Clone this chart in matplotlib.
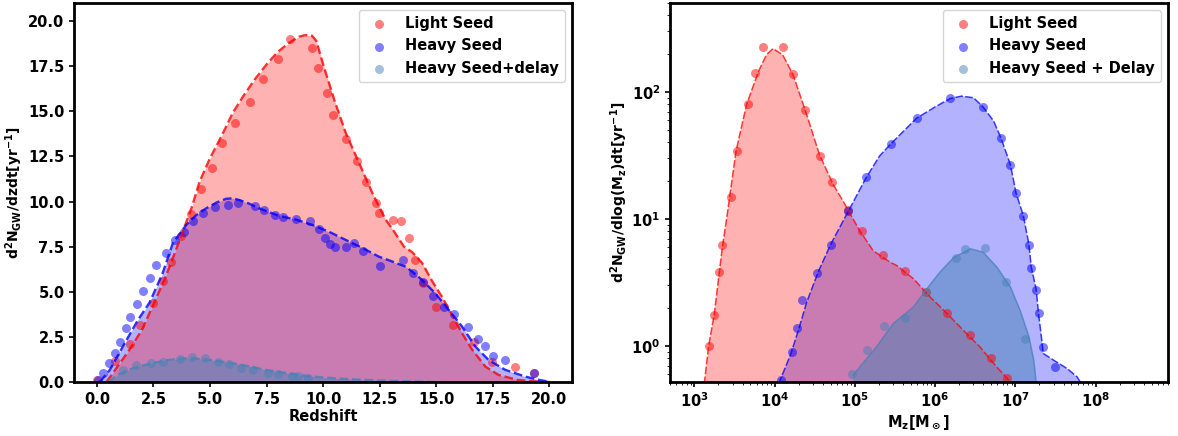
import matplotlib
matplotlib.use("Agg")
import matplotlib.pyplot as plt

plt.rcParams["font.weight"] = "bold"
plt.rcParams["axes.labelweight"] = "bold"
plt.rcParams["mathtext.default"] = "bf"

# ---- left panel: merger rate vs redshift ----
light_z = [0.0, 0.79, 1.45, 1.89, 2.48, 2.92, 3.29, 3.73, 4.17, 4.61, 5.1, 5.54,
           6.12, 6.77, 7.33, 7.99, 8.55, 9.5, 9.79, 10.19, 10.44, 11.0, 11.48,
           11.88, 12.32, 12.47, 13.1, 13.45, 13.79, 14.05, 14.42, 14.99, 15.74,
           16.65, 17.46, 18.49, 19.32]
light_rate = [0.1, 1.16, 2.1, 3.16, 4.36, 5.6, 6.67, 8.09, 9.3, 10.68, 11.84,
              13.22, 14.37, 15.5, 16.77, 17.88, 19.03, 18.49, 17.42, 16.0, 14.79,
              13.45, 12.26, 11.1, 9.9, 9.35, 9.0, 8.93, 7.96, 6.76, 5.47, 4.17,
              3.18, 2.2, 1.13, 0.81, 0.52]
light_fit_z = [0.43, 0.8, 1.45, 2.0, 2.5, 3.0, 3.4, 3.73, 4.2, 4.54, 5.0, 5.5,
               6.0, 6.5, 7.0, 7.5, 8.0, 8.5, 8.94, 9.2, 9.5, 9.7, 10.0, 10.5,
               11.0, 11.6, 12.2, 12.76, 13.05, 13.57, 13.93, 14.37, 14.81, 15.26,
               15.7, 16.14, 16.58, 17.17, 17.75, 18.6, 19.3, 20.0]
light_fit_rate = [0.0, 0.65, 1.8, 2.9, 4.3, 5.7, 7.0, 8.1, 9.7, 11.1, 12.4, 13.6,
                  14.9, 15.9, 16.8, 17.6, 18.3, 18.8, 19.14, 19.22, 19.2, 18.9,
                  17.6, 15.6, 13.8, 12.1, 10.4, 9.0, 8.5, 7.5, 7.2, 6.6, 5.6, 4.7,
                  3.7, 2.7, 1.8, 0.85, 0.39, 0.11, 0.03, 0.0]

heavy_z = [0.06, 0.28, 0.53, 0.82, 1.04, 1.28, 1.48, 1.79, 2.04, 2.36, 2.63,
           3.07, 3.47, 3.85, 4.24, 4.71, 5.24, 5.79, 6.23, 7.0, 7.4, 7.89, 8.21,
           8.8, 9.41, 9.82, 10.07, 10.31, 10.51, 11.03, 11.37, 11.78, 12.5,
           13.54, 13.96, 14.41, 14.86, 15.33, 15.8, 16.39, 16.83, 17.15, 17.49,
           18.05, 19.32]
heavy_rate = [0.11, 0.48, 1.04, 1.59, 2.24, 2.97, 3.58, 4.3, 5.06, 5.78, 6.48,
              7.17, 7.87, 8.29, 8.94, 9.38, 9.72, 9.81, 9.9, 9.77, 9.53, 9.25,
              9.12, 9.01, 8.92, 8.46, 8.0, 7.63, 7.5, 7.5, 7.68, 7.26, 6.45,
              6.76, 6.06, 5.52, 4.78, 4.17, 3.75, 3.07, 2.38, 2.0, 1.44, 1.2, 0.52]
heavy_fit_z = [0.13, 0.57, 1.23, 1.8, 2.33, 2.9, 3.36, 3.95, 4.4, 4.83, 5.3,
               5.71, 6.0, 6.3, 6.7, 7.18, 8.06, 8.8, 9.53, 10.3, 11.0, 11.7,
               12.47, 13.0, 13.64, 14.0, 14.37, 14.96, 15.55, 16.14, 16.73,
               17.31, 18.05, 18.93, 19.5, 19.96]
heavy_fit_rate = [0.0, 0.66, 2.14, 3.4, 4.4, 6.0, 7.7, 8.7, 9.25, 9.62, 9.95,
                  10.15, 10.18, 10.08, 9.9, 9.62, 9.2, 9.0, 8.7, 8.3, 7.87, 7.45,
                  6.94, 6.7, 6.39, 6.05, 5.65, 4.91, 3.99, 3.07, 1.96, 1.22, 0.67,
                  0.3, 0.12, 0.02]

delay_z = [1.16, 1.75, 2.41, 2.92, 3.66, 4.2, 4.76, 5.34, 5.86, 6.37, 6.89,
           7.55, 8.02, 8.63, 8.9, 9.31]
delay_rate = [0.66, 0.94, 1.04, 1.13, 1.26, 1.4, 1.31, 1.13, 0.98, 0.79, 0.66,
              0.52, 0.43, 0.35, 0.33, 0.2]
delay_fit_z = [0.5, 1.0, 1.6, 2.3, 3.07, 3.7, 4.24, 5.0, 6.0, 6.8, 7.48, 8.65,
               9.5, 10.5, 11.5, 12.5, 13.5, 14.5, 15.0]
delay_fit_rate = [0.0, 0.45, 0.76, 1.0, 1.2, 1.3, 1.31, 1.22, 1.04, 0.85, 0.66,
                  0.44, 0.3, 0.2, 0.13, 0.08, 0.04, 0.01, 0.0]

# ---- right panel: merger rate vs redshifted mass ----
light_m = [1.51e3, 1.78e3, 2.04e3, 2.24e3, 2.88e3, 3.39e3, 4.68e3, 5.75e3,
           7.24e3, 1.26e4, 1.70e4, 2.37e4, 3.72e4, 5.25e4, 8.32e4, 1.23e5,
           2.24e5, 4.27e5, 7.76e5, 1.41e6, 2.75e6, 5.01e6, 7.94e6]
light_dn = [1.0, 1.76, 3.8, 6.24, 14.8, 34.3, 80.5, 141, 225, 225, 138, 71.8,
            31.3, 19.6, 11.7, 8.08, 5.21, 3.92, 2.65, 1.80, 1.21, 0.805, 0.555]
light_fit_m = [1.33e3, 1.51e3, 1.78e3, 2.04e3, 2.24e3, 2.51e3, 3.31e3, 4.47e3,
               6.31e3, 7.94e3, 9.55e3, 1.26e4, 1.70e4, 2.51e4, 3.63e4, 5.37e4,
               7.94e4, 8.71e4, 1.15e5, 1.70e5, 2.75e5, 3.31e5, 5.37e5, 8.71e5,
               1.41e6, 2.24e6, 3.63e6, 5.89e6, 8.71e6]
light_fit_dn = [0.5, 1.0, 1.8, 3.7, 6.0, 9.7, 34, 79, 145, 196, 219, 196, 137,
                66.5, 32, 18.7, 12.3, 11, 8.1, 5.6, 4.56, 4.3, 3.38, 2.42, 1.8,
                1.33, 0.98, 0.68, 0.52]

heavy_m = [1.20e4, 1.66e4, 1.91e4, 2.19e4, 3.35e4, 5.01e4, 8.32e4, 1.38e5,
           2.82e5, 5.89e5, 1.55e6, 3.98e6, 6.61e6, 8.71e6, 1.02e7, 1.26e7,
           1.48e7, 1.58e7, 1.82e7, 1.95e7, 2.24e7, 3.09e7]
heavy_dn = [0.54, 0.89, 1.37, 2.31, 3.76, 6.24, 11.6, 21.2, 39.1, 61.8, 88.7,
            75.9, 43.6, 26.6, 16.1, 10.6, 6.28, 4.12, 2.73, 1.81, 0.98, 0.68]
heavy_fit_m = [1.12e4, 1.26e4, 1.58e4, 2.0e4, 2.51e4, 3.55e4, 5.01e4, 8.32e4,
               1.38e5, 2.04e5, 2.82e5, 5.89e5, 1.0e6, 1.55e6, 2.14e6, 3.02e6,
               3.98e6, 5.37e6, 6.61e6, 8.71e6, 1.02e7, 1.26e7, 1.48e7, 1.58e7,
               1.82e7, 1.95e7, 2.24e7, 3.02e7, 4.47e7, 5.89e7, 6.46e7]
heavy_fit_dn = [0.5, 0.6, 0.85, 1.35, 2.2, 3.9, 6.3, 11.5, 21, 31.3, 39, 62,
                76, 88.7, 92.5, 89.8, 75.9, 58.9, 43.6, 26.6, 16.1, 10.6, 6.3,
                4.2, 2.8, 1.8, 0.87, 0.77, 0.66, 0.57, 0.52]

delay_m = [9.33e4, 1.41e5, 2.34e5, 4.27e5, 7.76e5, 1.82e6, 2.34e6, 4.17e6,
           7.76e6, 1.33e7]
delay_dn = [0.6, 0.925, 1.44, 1.66, 2.65, 4.94, 5.8, 5.87, 3.18, 1.14]
delay_fit_m = [9.55e4, 1.15e5, 1.86e5, 3.02e5, 5.37e5, 7.94e5, 1.15e6, 1.70e6,
               2.75e6, 3.98e6, 5.89e6, 8.71e6, 1.15e7, 1.48e7, 1.70e7, 1.82e7]
delay_fit_dn = [0.59, 0.68, 0.98, 1.5, 2.02, 2.82, 3.8, 4.94, 5.81, 5.46, 4.17,
                2.9, 1.9, 1.18, 0.77, 0.52]


def main() -> int:
    fig, (ax1, ax2) = plt.subplots(1, 2, figsize=(11.78, 4.36), dpi=100)
    fig.subplots_adjust(left=0.063, right=0.9915, top=0.993, bottom=0.124, wspace=0.197)

    red, blue, teal = "red", "blue", "steelblue"
    ms = 42

    # Left: redshift distribution (blue fill first, red on top)
    ax1.fill_between(heavy_fit_z, heavy_fit_rate, color=blue, alpha=0.3, lw=0)
    ax1.fill_between(light_fit_z, light_fit_rate, color=red, alpha=0.3, lw=0)
    ax1.fill_between(delay_fit_z, delay_fit_rate, color=teal, alpha=0.5, lw=0)
    ax1.plot(light_fit_z, light_fit_rate, "--", color=red, lw=1.7, alpha=0.8)
    ax1.plot(heavy_fit_z, heavy_fit_rate, "--", color=blue, lw=1.7, alpha=0.8)
    ax1.plot(delay_fit_z, delay_fit_rate, "--", color=teal, lw=1.7, alpha=0.8)
    ax1.scatter(light_z, light_rate, s=ms, color=red, alpha=0.5, lw=0, label="Light Seed")
    ax1.scatter(heavy_z, heavy_rate, s=ms, color=blue, alpha=0.5, lw=0, label="Heavy Seed")
    ax1.scatter(delay_z, delay_rate, s=ms, color=teal, alpha=0.5, lw=0, label="Heavy Seed+delay")
    ax1.set_xlim(-1, 21)
    ax1.set_ylim(0, 21)
    ax1.set_xticks([0, 2.5, 5, 7.5, 10, 12.5, 15, 17.5, 20])
    ax1.set_yticks([0, 2.5, 5, 7.5, 10, 12.5, 15, 17.5, 20])
    ax1.set_xlabel("Redshift", fontsize=10.5, labelpad=2)
    ax1.set_ylabel(r"$\mathbf{d^2N_{GW}/dzdt[yr^{-1}]}$", fontsize=10, labelpad=2)
    ax1.legend(loc="upper right", prop={"size": 10.5, "weight": "bold"})

    # Right: mass distribution, log-log
    ax2.fill_between(heavy_fit_m, heavy_fit_dn, 1e-3, color=blue, alpha=0.3, lw=0)
    ax2.fill_between(light_fit_m, light_fit_dn, 1e-3, color=red, alpha=0.3, lw=0)
    ax2.fill_between(delay_fit_m, delay_fit_dn, 1e-3, color=teal, alpha=0.5, lw=0)
    ax2.plot(light_fit_m, light_fit_dn, "--", color=red, lw=1.1, alpha=0.75, dashes=(5, 1.5))
    ax2.plot(heavy_fit_m, heavy_fit_dn, "--", color=blue, lw=1.1, alpha=0.75, dashes=(5, 1.5))
    ax2.plot(delay_fit_m, delay_fit_dn, "-", color=teal, lw=1.1, alpha=0.75)
    ax2.scatter(light_m, light_dn, s=ms, color=red, alpha=0.5, lw=0, label="Light Seed")
    ax2.scatter(heavy_m, heavy_dn, s=ms, color=blue, alpha=0.5, lw=0, label="Heavy Seed")
    ax2.scatter(delay_m, delay_dn, s=ms, color=teal, alpha=0.5, lw=0, label="Heavy Seed + Delay")
    ax2.set_xscale("log")
    ax2.set_yscale("log")
    ax2.set_xlim(5e2, 8e8)
    ax2.set_ylim(0.52, 500)
    ax2.set_xlabel(r"$\mathbf{M_z[M_\odot]}$", fontsize=10.5, labelpad=2)
    ax2.set_ylabel(r"$\mathbf{d^2N_{GW}/dlog(M_z)dt[yr^{-1}]}$", fontsize=10, labelpad=1)
    ax2.legend(loc="upper right", prop={"size": 10.5, "weight": "bold"})

    for ax in (ax1, ax2):
        for sp in ax.spines.values():
            sp.set_linewidth(2)
        ax.tick_params(labelsize=10.5, width=1.2)

    fig.canvas.draw()
    for ax in (ax1, ax2):
        plt.setp(ax.get_xticklabels() + ax.get_yticklabels(), fontweight="bold")

    fig.savefig("out.png", dpi=100)
    plt.close(fig)
    return 0


if __name__ == "__main__":
    raise SystemExit(main())
